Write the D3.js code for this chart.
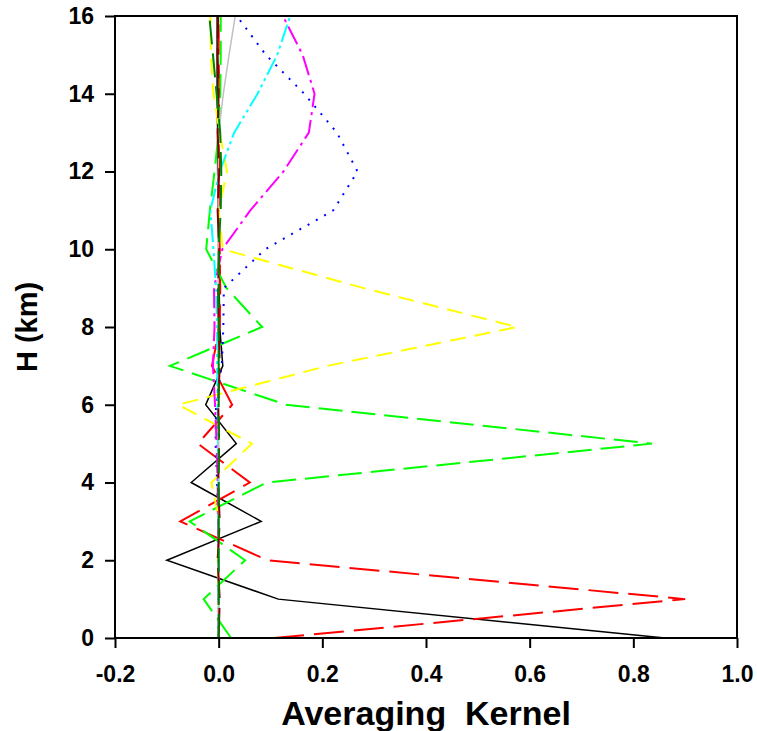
<!DOCTYPE html>
<html>
<head>
<meta charset="utf-8">
<script src="https://cdn.jsdelivr.net/npm/d3@7"></script>
<style>
  html, body { margin: 0; padding: 0; background: #fff; }
  svg { display: block; font-family: "Liberation Sans", Arial, sans-serif; }
</style>
</head>
<body>
<svg id="chart" width="757" height="731"></svg>
<script>
// Altitude levels (km)
const heights = [0, 1, 2, 3, 4, 5, 6, 7, 8, 9, 10, 11, 12, 13, 14, 15, 16];

// Averaging kernel rows, one value per altitude level
const kBlack     = [0.861, 0.115, -0.100, 0.082, -0.053, 0.034, -0.025, 0.008, 0.002, 0.001, 0.000, -0.001, -0.002, -0.002, -0.003, -0.003, -0.003];
const kRed       = [0.107, 0.900, 0.094, -0.074, 0.060, -0.040, 0.026, -0.013, 0.002, 0.003, 0.002, 0.000, 0.001, 0.000, 0.001, 0.000, 0.000];
const kLime      = [0.024, -0.029, 0.051, -0.056, 0.093, 0.836, 0.130, -0.094, 0.084, 0.015, -0.024, -0.017, -0.008, 0.000, 0.003, 0.004, 0.004];
const kYellow    = [0.000, 0.000, -0.002, 0.001, -0.014, 0.064, -0.078, 0.210, 0.576, 0.280, 0.008, 0.000, 0.016, 0.002, -0.010, -0.015, -0.016];
const kBlue      = [0.000, 0.000, 0.000, -0.001, -0.003, -0.006, -0.005, 0.006, 0.009, 0.010, 0.090, 0.221, 0.268, 0.228, 0.165, 0.091, 0.035];
const kMagenta   = [0.000, 0.000, 0.000, -0.001, -0.002, -0.004, -0.007, -0.011, -0.008, -0.009, 0.007, 0.061, 0.125, 0.174, 0.185, 0.162, 0.124];
const kCyan      = [0.000, 0.000, 0.000, 0.000, 0.000, -0.001, -0.002, -0.003, -0.003, -0.005, -0.010, -0.016, 0.002, 0.030, 0.075, 0.113, 0.138];
const kGray      = [0.000, 0.000, 0.000, 0.000, 0.000, 0.000, 0.000, 0.000, -0.001, -0.001, -0.001, -0.001, -0.001, 0.000, 0.009, 0.020, 0.032];
const kDarkRed   = [0.000, 0.002, -0.002, 0.002, -0.001, 0.001, -0.001, 0.002, 0.000, -0.001, 0.001, -0.002, 0.001, -0.002, 0.000, -0.002, -0.001];
const kDarkGreen = [0.000, 0.000, 0.000, 0.000, 0.000, 0.000, 0.000, 0.000, 0.000, 0.000, 0.000, 0.004, 0.005, 0.003, -0.004, -0.011, -0.018];

// Axis ticks
const xTickValues = [-0.2, 0.0, 0.2, 0.4, 0.6, 0.8, 1.0];
const xTickLabels = ["-0.2", "0.0", "0.2", "0.4", "0.6", "0.8", "1.0"];
const yTickValues = [0, 2, 4, 6, 8, 10, 12, 14, 16];
const yTickLabels = ["0", "2", "4", "6", "8", "10", "12", "14", "16"];

const xTitle = "Averaging  Kernel";
const yTitle = "H (km)";

// Drawing styles for each kernel row, in drawing order
const series = [
  { values: kBlack,     color: "#000000", width: 1.5, dash: null },
  { values: kRed,       color: "#ff0000", width: 2,   dash: "30,10" },
  { values: kLime,      color: "#00ff00", width: 2,   dash: "24,9" },
  { values: kYellow,    color: "#ffff00", width: 2,   dash: "16,9" },
  { values: kBlue,      color: "#0000ff", width: 2,   dash: "2,7.5" },
  { values: kMagenta,   color: "#ff00ff", width: 2,   dash: "20,5,3,5" },
  { values: kCyan,      color: "#00ffff", width: 2,   dash: "18,4,3,4,3,4" },
  { values: kGray,      color: "#c0c0c0", width: 1.5, dash: null },
  { values: kDarkRed,   color: "#800000", width: 2,   dash: "30,10" },
  { values: kDarkGreen, color: "#008000", width: 2,   dash: "24,9" }
];

const margin = { left: 115, top: 16, right: 20, bottom: 93 };
const W = 757, H = 731;
const plotW = W - margin.left - margin.right;
const plotH = H - margin.top - margin.bottom;

const svg = d3.select("#chart");
const g = svg.append("g").attr("transform", `translate(${margin.left},${margin.top})`);

const x = d3.scaleLinear().domain([-0.2, 1.0]).range([0, plotW]);
const y = d3.scaleLinear().domain([0, 16]).range([plotH, 0]);

const line = d3.line()
  .x(d => x(d.v))
  .y(d => y(d.h));

// Kernel curves
g.append("g").selectAll("path")
  .data(series)
  .join("path")
  .attr("d", s => line(heights.map((h, i) => ({ h: h, v: s.values[i] }))))
  .attr("fill", "none")
  .attr("stroke", s => s.color)
  .attr("stroke-width", s => s.width)
  .attr("stroke-dasharray", s => s.dash)
  .attr("stroke-linejoin", "miter");

// Axes with outward ticks
const xAxis = d3.axisBottom(x)
  .tickValues(xTickValues)
  .tickFormat((d, i) => xTickLabels[i])
  .tickSize(10)
  .tickPadding(18);

const yAxis = d3.axisLeft(y)
  .tickValues(yTickValues)
  .tickFormat((d, i) => yTickLabels[i])
  .tickSize(10)
  .tickPadding(11);

const gx = g.append("g").attr("transform", `translate(0,${plotH})`).call(xAxis);
const gy = g.append("g").call(yAxis);

[gx, gy].forEach(a => {
  a.select(".domain").remove();
  a.selectAll(".tick line").attr("stroke", "#000").attr("stroke-width", 2);
  a.selectAll(".tick text")
    .attr("fill", "#000")
    .style("font-family", "'Liberation Sans', Arial, sans-serif")
    .style("font-weight", "bold")
    .style("font-size", "23px");
});

// Plot frame
g.append("rect")
  .attr("x", 0).attr("y", 0)
  .attr("width", plotW).attr("height", plotH)
  .attr("fill", "none")
  .attr("stroke", "#000")
  .attr("stroke-width", 2);

// Axis titles
svg.append("text")
  .attr("x", margin.left + plotW / 2)
  .attr("y", 725)
  .attr("text-anchor", "middle")
  .style("white-space", "pre")
  .style("font-weight", "bold")
  .style("font-size", "34px")
  .text(xTitle);

svg.append("text")
  .attr("transform", `translate(37,${margin.top + plotH / 2}) rotate(-90)`)
  .attr("text-anchor", "middle")
  .style("font-weight", "bold")
  .style("font-size", "29px")
  .text(yTitle);
</script>
</body>
</html>
